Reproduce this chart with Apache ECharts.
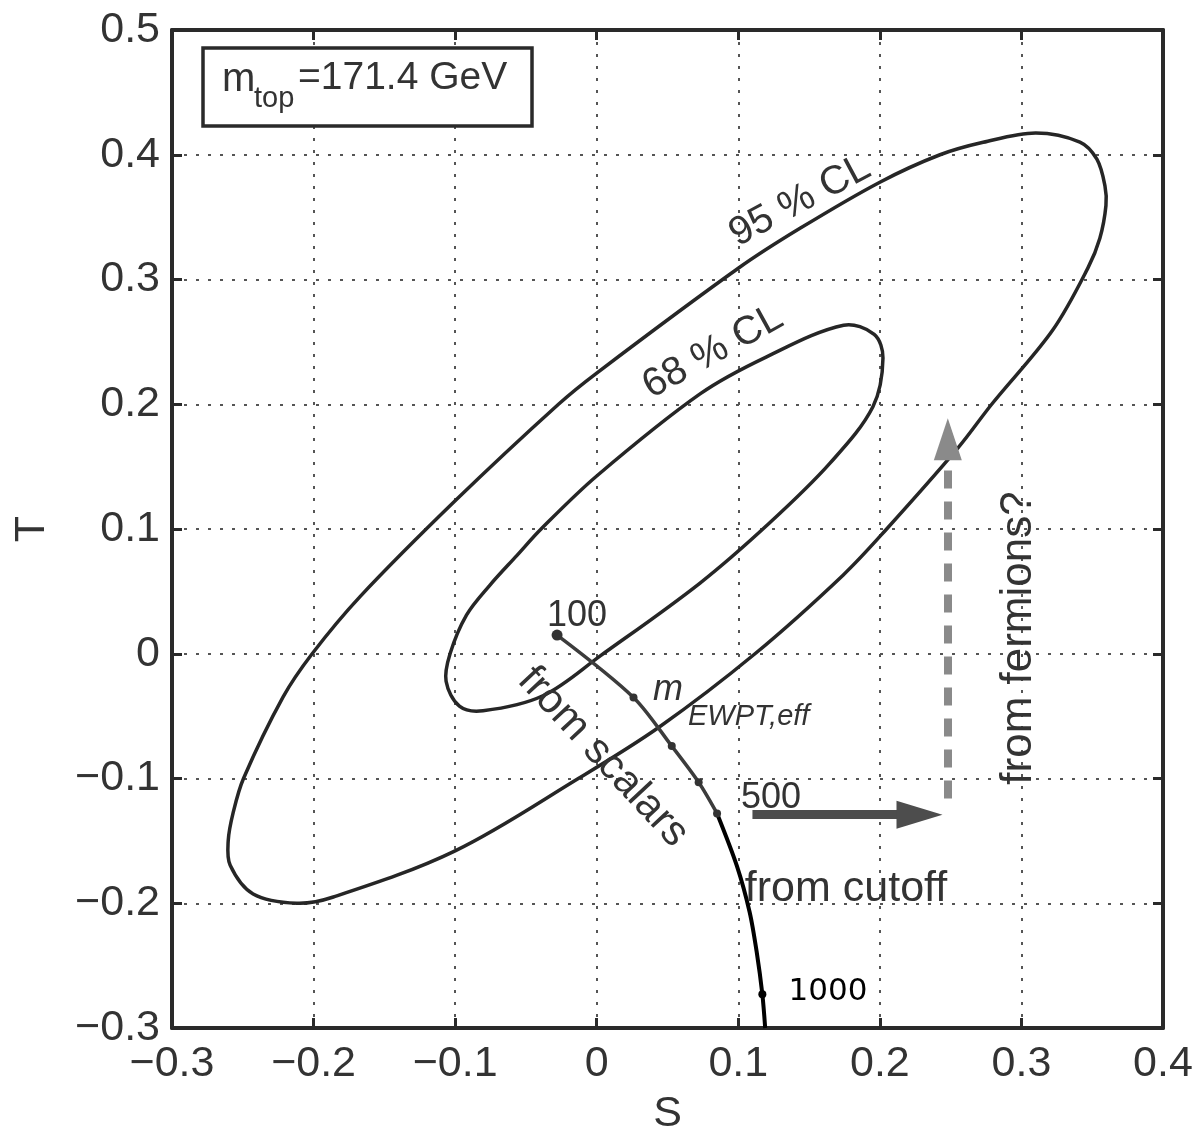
<!DOCTYPE html>
<html>
<head>
<meta charset="utf-8">
<script src="https://cdn.jsdelivr.net/npm/echarts@6/dist/echarts.min.js"></script>
<style>
  html, body { margin: 0; padding: 0; background: #fff; }
  #chart { width: 1204px; height: 1141px; }
</style>
</head>
<body>
<div id="chart"></div>
<script>
// ---- axis ticks ----
const sTicks = [-0.3, -0.2, -0.1, 0, 0.1, 0.2, 0.3, 0.4];
const sTickLabels = ['\u22120.3', '\u22120.2', '\u22120.1', '0', '0.1', '0.2', '0.3', '0.4'];
const tTicks = [-0.3, -0.2, -0.1, 0, 0.1, 0.2, 0.3, 0.4, 0.5];
const tTickLabels = ['\u22120.3', '\u22120.2', '\u22120.1', '0', '0.1', '0.2', '0.3', '0.4', '0.5'];

// ---- 95 % CL contour in the (S, T) plane (closed loop) ----
const ellipse95 = [
  [0.000, 0.225], [0.100, 0.309], [0.1436, 0.341], [0.200, 0.378], [0.2425, 0.400],
  [0.273, 0.410], [0.310, 0.4175], [0.3413, 0.4102], [0.3533, 0.3964], [0.359, 0.375],
  [0.3597, 0.3593], [0.3554, 0.3331], [0.347, 0.3093], [0.322, 0.2593], [0.279, 0.200],
  [0.2552, 0.165], [0.2048, 0.100], [0.174, 0.063], [0.1118, 0.000], [0.0447, -0.0583],
  [-0.013, -0.100], [-0.100, -0.158], [-0.186, -0.195], [-0.2118, -0.200], [-0.2427, -0.1926],
  [-0.2589, -0.1696], [-0.2603, -0.150], [-0.2568, -0.1274], [-0.2495, -0.100], [-0.2215, -0.0346],
  [-0.201, 0.000], [-0.167, 0.046], [-0.100, 0.1226], [-0.027, 0.200]
];

// ---- 68 % CL contour (closed loop) ----
const ellipse68 = [
  [0.000, 0.1425], [0.073, 0.2083], [0.120, 0.238], [0.1744, 0.2633], [0.196, 0.256],
  [0.2022, 0.237], [0.1951, 0.198], [0.1648, 0.1528], [0.1224, 0.1052], [0.073, 0.0567],
  [0.003, -0.0013], [-0.038, -0.0337], [-0.0803, -0.0457], [-0.097, -0.042], [-0.1064, -0.022],
  [-0.1036, 0.000], [-0.092, 0.031], [-0.0754, 0.0551], [-0.0563, 0.0789], [-0.0393, 0.100]
];

// ---- scalar contribution, m_EWPT,eff = 100 ... 500 GeV ----
const scalarMasses = [100, 200, 300, 400, 500];
const scalarS = [-0.028, 0.026, 0.053, 0.072, 0.085];
const scalarT = [0.015, -0.035, -0.074, -0.103, -0.128];

// ---- cutoff contribution, from 500 GeV downwards (1000 GeV marked) ----
const cutoffS = [0.085, 0.099, 0.108, 0.113, 0.117, 0.119];
const cutoffT = [-0.128, -0.170, -0.207, -0.239, -0.273, -0.300];
const cutoffMarked = [false, false, false, false, true, false];

// ---- shifts (start and head-centre of each arrow) ----
const cutoffShift = [[0.110, -0.129], [0.228, -0.129]];
const fermionShift = [[0.248, -0.116], [0.248, 0.172]];

const FONT = '"Liberation Sans", Arial, Helvetica, sans-serif';
const INK = '#2a2a2a';
const TEXT = '#333';

const lookup = (ticks, labels) => v => {
  const i = ticks.findIndex(t => Math.abs(t - v) < 1e-6);
  return i >= 0 ? labels[i] : '';
};

const frameAxis = {
  axisLine: { show: true, onZero: false, lineStyle: { color: INK, width: 4 } },
  axisTick: { show: true, inside: true, length: 10, lineStyle: { color: INK, width: 3 } }
};
const dotted = { show: true, lineStyle: { color: '#555', width: 2, type: [3, 9] } };

const scalarData = scalarS.map((s, i) => [s, scalarT[i]]);
const cutoffData = cutoffS.map((s, i) => [s, cutoffT[i]]);

// a closed, smoothly joined contour through the listed (S, T) points
function contourSeries(name, pts) {
  return {
    name, type: 'custom', data: pts, encode: { x: 0, y: 1 }, silent: true, clip: true,
    renderItem: (params, api) => {
      if (params.dataIndex !== 0) return null;
      return {
        type: 'polygon',
        shape: { points: pts.map(p => api.coord(p)), smooth: 0.34 },
        style: { fill: 'none', stroke: '#262626', lineWidth: 3.5 }
      };
    }
  };
}

const chart = echarts.init(document.getElementById('chart'), null, { renderer: 'canvas' });

chart.setOption({
  animation: false,
  backgroundColor: '#fff',
  textStyle: { fontFamily: FONT },
  grid: { left: 172, top: 30, width: 991, height: 1007, containLabel: false },
  xAxis: [
    Object.assign({
      type: 'value', min: -0.3, max: 0.4, interval: 0.1, position: 'bottom',
      name: 'S', nameLocation: 'middle', nameGap: 65,
      nameTextStyle: { fontSize: 43, color: TEXT, fontFamily: FONT },
      axisLabel: { fontSize: 43, color: TEXT, margin: 15, fontFamily: FONT,
                   formatter: lookup(sTicks, sTickLabels) },
      splitLine: dotted
    }, frameAxis),
    Object.assign({
      type: 'value', min: -0.3, max: 0.4, interval: 0.1, position: 'top',
      axisLabel: { show: false }, splitLine: { show: false }
    }, frameAxis)
  ],
  yAxis: [
    Object.assign({
      type: 'value', min: -0.3, max: 0.5, interval: 0.1, position: 'left',
      name: 'T', nameLocation: 'middle', nameGap: 118,
      nameTextStyle: { fontSize: 43, color: TEXT, fontFamily: FONT },
      axisLabel: { fontSize: 43, color: TEXT, margin: 12, fontFamily: FONT,
                   formatter: lookup(tTicks, tTickLabels) },
      splitLine: dotted
    }, frameAxis),
    Object.assign({
      type: 'value', min: -0.3, max: 0.5, interval: 0.1, position: 'right',
      axisLabel: { show: false }, splitLine: { show: false }
    }, frameAxis)
  ],
  series: [
    contourSeries('95 % CL', ellipse95),
    contourSeries('68 % CL', ellipse68),
    {
      name: 'from scalars', type: 'line', data: scalarData, smooth: 0.3,
      showSymbol: true, symbol: 'circle',
      symbolSize: (v, p) => (p.dataIndex === 0 ? 11 : 8),
      itemStyle: { color: '#333' },
      lineStyle: { color: '#3c3c3c', width: 3.5 }, silent: true, z: 3
    },
    {
      name: 'from cutoff', type: 'line', data: cutoffData, smooth: 0.3,
      showSymbol: true, symbol: 'circle',
      symbolSize: (v, p) => (cutoffMarked[p.dataIndex] ? 8 : 0),
      itemStyle: { color: '#000' },
      lineStyle: { color: '#000', width: 4 }, silent: true, z: 3
    },
    {
      name: 'cutoff shift', type: 'line', data: [], silent: true,
      markLine: {
        silent: true, animation: false,
        symbol: ['none', 'triangle'], symbolSize: [28, 46],
        label: { show: false },
        lineStyle: { color: '#4d4d4d', width: 9, type: 'solid' },
        emphasis: { disabled: true },
        data: [[{ coord: cutoffShift[0] }, { coord: cutoffShift[1] }]]
      }
    },
    {
      name: 'fermion shift', type: 'line', data: [], silent: true,
      markLine: {
        silent: true, animation: false,
        symbol: ['none', 'triangle'], symbolSize: [28, 42],
        label: { show: false },
        lineStyle: { color: '#8a8a8a', width: 8, type: [18, 13] },
        emphasis: { disabled: true },
        data: [[{ coord: fermionShift[0] }, { coord: fermionShift[1] }]]
      }
    }
  ],
  graphic: [
    { type: 'rect', z: 50, shape: { x: 203, y: 48, width: 329, height: 78 },
      style: { fill: '#fff', stroke: INK, lineWidth: 3.5 } },
    { type: 'text', z: 51, x: 222, y: 80,
      style: { text: 'm', fontSize: 40, fontFamily: FONT, fill: TEXT, align: 'left', verticalAlign: 'middle' } },
    { type: 'text', z: 51, x: 254, y: 99,
      style: { text: 'top', fontSize: 29, fontFamily: FONT, fill: TEXT, align: 'left', verticalAlign: 'middle' } },
    { type: 'text', z: 51, x: 298, y: 78,
      style: { text: '=171.4 GeV', fontSize: 39, fontFamily: FONT, fill: TEXT, align: 'left', verticalAlign: 'middle' } },

    { type: 'text', z: 51, x: 800, y: 201, rotation: 28 * Math.PI / 180,
      style: { text: '95 % CL', fontSize: 40, fontFamily: FONT, fill: TEXT, align: 'center', verticalAlign: 'middle' } },
    { type: 'text', z: 51, x: 713, y: 352, rotation: 29 * Math.PI / 180,
      style: { text: '68 % CL', fontSize: 40, fontFamily: FONT, fill: TEXT, align: 'center', verticalAlign: 'middle' } },

    { type: 'text', z: 51, x: 577, y: 616,
      style: { text: '100', fontSize: 36, fontFamily: FONT, fill: TEXT, align: 'center', verticalAlign: 'middle' } },
    { type: 'text', z: 51, x: 771, y: 798,
      style: { text: '500', fontSize: 36, fontFamily: FONT, fill: TEXT, align: 'center', verticalAlign: 'middle' } },
    { type: 'text', z: 51, x: 828, y: 992,
      style: { text: '1000', fontSize: 31, fontFamily: '"DejaVu Sans", sans-serif', fill: '#000', align: 'center', verticalAlign: 'middle' } },

    { type: 'text', z: 51, x: 653, y: 690,
      style: { text: 'm', fontSize: 36, fontStyle: 'italic', fontFamily: FONT, fill: TEXT, align: 'left', verticalAlign: 'middle' } },
    { type: 'text', z: 51, x: 688, y: 717,
      style: { text: 'EWPT,eff', fontSize: 29, fontStyle: 'italic', fontFamily: FONT, fill: TEXT, align: 'left', verticalAlign: 'middle' } },

    { type: 'text', z: 51, x: 603, y: 757, rotation: -47 * Math.PI / 180,
      style: { text: 'from scalars', fontSize: 42, fontFamily: FONT, fill: TEXT, align: 'center', verticalAlign: 'middle' } },
    { type: 'text', z: 51, x: 846, y: 889,
      style: { text: 'from cutoff', fontSize: 43, fontFamily: FONT, fill: TEXT, align: 'center', verticalAlign: 'middle' } },
    { type: 'text', z: 51, x: 1019, y: 638, rotation: Math.PI / 2,
      style: { text: 'from fermions?', fontSize: 44, fontFamily: FONT, fill: TEXT, align: 'center', verticalAlign: 'middle' } }
  ]
});
</script>
</body>
</html>
